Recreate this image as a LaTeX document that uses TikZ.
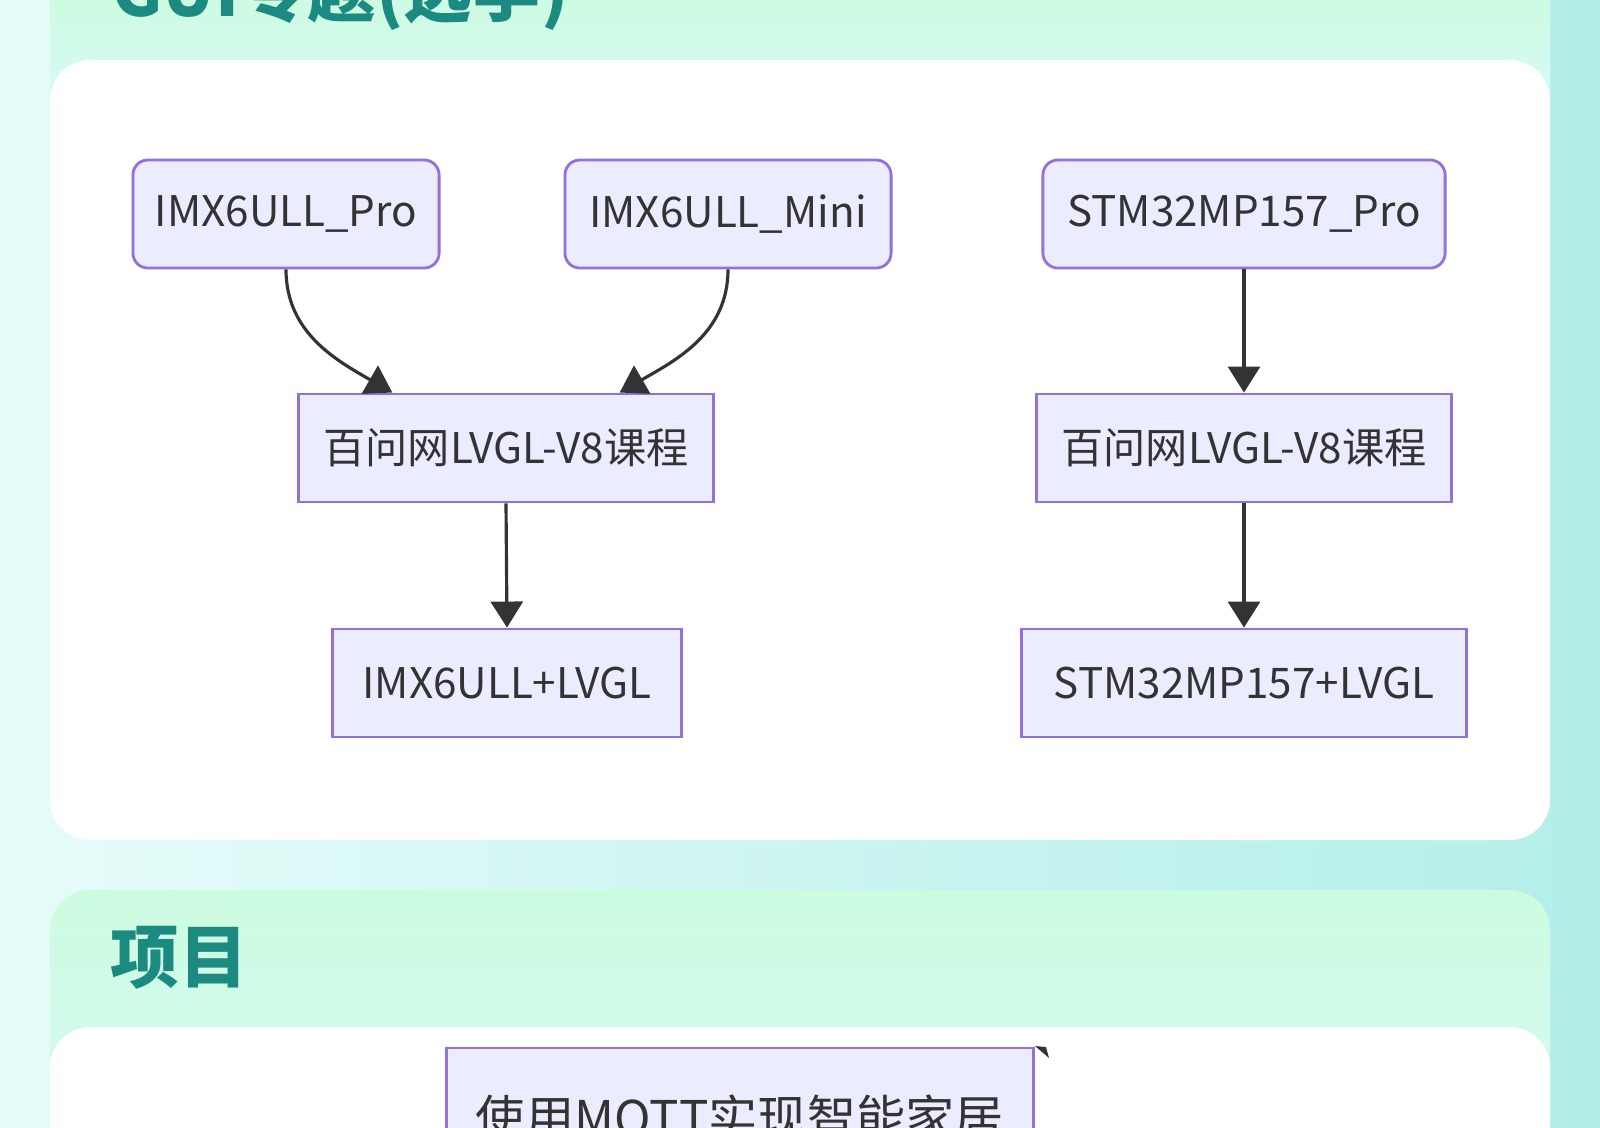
\documentclass[tikz,border=0pt]{standalone}
\usepackage{fontspec}
\usepackage{tikz}
\usepackage{xcolor}
\setmainfont{Noto Sans CJK SC}
\usetikzlibrary{arrows.meta, positioning}
\definecolor{PageLeft}{HTML}{E6FCFA}
\definecolor{PageRight}{HTML}{B3EEE9}
\definecolor{PanelMint}{HTML}{CCFCE0}
\definecolor{PanelAqua}{HTML}{D8F9F6}
\definecolor{HeadTeal}{HTML}{1C8A80}
\definecolor{NodeFill}{HTML}{ECECFF}
\definecolor{NodeLine}{HTML}{9370DB}
\definecolor{NodeText}{HTML}{333333}
\definecolor{LinkGray}{HTML}{333333}
\tikzset{
    % Node styles
    boardbox/.style={
        rectangle,
        rounded corners=0.15cm,
        draw=NodeLine,
        fill=NodeFill,
        line width=0.8pt,
        minimum height=1.08cm,
        text=NodeText,
        text centered,
        font=\fontsize{12pt}{14pt}\selectfont
    },
    coursebox/.style={
        rectangle,
        draw=NodeLine,
        fill=NodeFill,
        line width=0.8pt,
        minimum height=1.08cm,
        text=NodeText,
        text centered,
        font=\fontsize{12pt}{14pt}\selectfont
    },
    headtext/.style={
        inner sep=0pt,
        anchor=base west,
        text=HeadTeal,
        font=\fontsize{19.5pt}{22pt}\selectfont\bfseries
    },
    % Arrow styles
    flowarrow/.style={
        -{Triangle[length=0.26cm,width=0.32cm]},
        line width=0.9pt,
        LinkGray
    }
}

\begin{document}
\begin{tikzpicture}[x=0.01cm, y=-0.01cm]
                \useasboundingbox (0,0) rectangle (1600,1127);
                \clip (0,0) rectangle (1600,1127);
                % Page background and cards
                \shade[left color=PageLeft, right color=PageRight] (0,0) rectangle (1600,1127);
                \shade[top color=PanelMint, bottom color=PanelAqua] (50,-10) rectangle (1550,100);
                \fill[white, rounded corners=0.4cm] (50,60) rectangle (1550,840);
                \shade[top color=PanelMint, bottom color=PanelAqua, rounded corners=0.4cm] (50,890) rectangle (1550,1160);
                \fill[white, rounded corners=0.4cm] (50,1027) rectangle (1550,1300);

                % Headings
                \node[headtext] (guihead) at (112,17) {GUI专题(选学)};
                \node[headtext] (projhead) at (110,982) {项目};

                % IMX6ULL graph
                \node[boardbox,minimum width=3.06cm] (ipro) at (286,214) {IMX6ULL\_Pro};
                \node[boardbox,minimum width=3.26cm] (imini) at (728,214) {IMX6ULL\_Mini};
                \node[coursebox,minimum width=4.15cm] (ilvgl) at (506,448) {百问网LVGL-V8课程};
                \node[coursebox,minimum width=3.48cm] (iresult) at (507,683) {IMX6ULL+LVGL};

                \draw[flowarrow] (ipro.south) to[out=-90,in=150] (ilvgl.154);
                \draw[flowarrow] (imini.south) to[out=-90,in=30] (ilvgl.26);
                \draw[flowarrow] (ilvgl.south) -- (iresult.north);

                % STM32MP157 graph
                \node[boardbox,minimum width=4.02cm] (spro) at (1244,214) {STM32MP157\_Pro};
                \node[coursebox,minimum width=4.15cm] (slvgl) at (1244,448) {百问网LVGL-V8课程};
                \node[coursebox,minimum width=4.44cm] (sresult) at (1244,683) {STM32MP157+LVGL};

                \draw[flowarrow] (spro.south) -- (slvgl.north);
                \draw[flowarrow] (slvgl.south) -- (sresult.north);

                % Project graph
                \node[coursebox,minimum width=5.87cm,minimum height=1.44cm,font=\fontsize{14pt}{16pt}\selectfont] (mqtt) at (740,1120) {使用MQTT实现智能家居};
                \fill[LinkGray] (1035,1046) -- (1046,1047) -- (1049,1058) -- cycle;
            \end{tikzpicture}
\end{document}
